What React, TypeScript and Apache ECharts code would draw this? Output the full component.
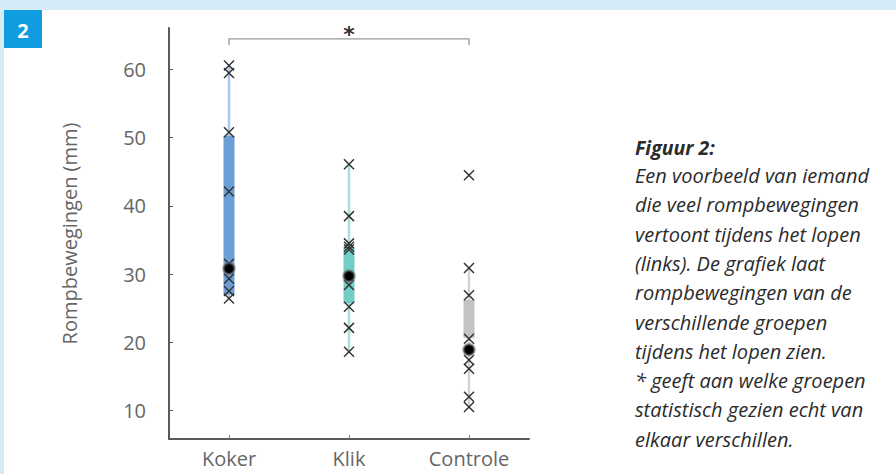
import React, { useEffect, useRef } from "react";
import * as echarts from "echarts";

const categories = ["Koker", "Klik", "Controle"];
const yTickValues = [10, 20, 30, 40, 50, 60];
const kokerPoints = [60.6, 59.5, 50.8, 42.1, 31.5, 29.3, 27.5, 26.4];
const klikPoints = [46.1, 38.5, 34.5, 34.0, 33.6, 28.4, 25.2, 22.1, 18.6];
const controlePoints = [44.5, 30.9, 26.9, 20.5, 17.4, 16.1, 12.0, 10.5];
const medians = [30.8, 29.7, 18.9];
const whiskerLow = [26.4, 18.6, 10.5];
const whiskerHigh = [60.6, 46.1, 30.9];
const boxLow = [27.0, 25.7, 20.6];
const boxHigh = [50.3, 33.8, 26.2];
const boxColors = ["#6c9fd6", "#72cdc6", "#c3c3c3"];
const whiskerColors = ["#aac8ea", "#a9dedb", "#d8d0d0"];
const bracket = { from: 0, to: 2, value: 64.5, tickEnd: 63.6, starValue: 65.6 };
const captionTitle = "Figuur 2:";
const captionLines = [
  "Een voorbeeld van iemand",
  "die veel rompbewegingen",
  "vertoont tijdens het lopen",
  "(links). De grafiek laat",
  "rompbewegingen van de",
  "verschillende groepen",
  "tijdens het lopen zien.",
  "* geeft aan welke groepen",
  "statistisch gezien echt van",
  "elkaar verschillen.",
];

export default function App() {
  const ref = useRef<HTMLDivElement>(null);
  useEffect(() => {
    if (!ref.current) return;
    document.body.style.margin = "0";
    document.body.style.background = "#ffffff";
    document.documentElement.style.background = "#ffffff";
    const chart = echarts.init(ref.current, null, { renderer: "svg", width: 896, height: 474 });
    const allPoints: number[][] = [];
    [kokerPoints, klikPoints, controlePoints].forEach((arr, i) =>
      arr.forEach((v) => allPoints.push([i, v]))
    );
    const boxData = categories.map((_, i) => [i, whiskerLow[i], boxLow[i], boxHigh[i], whiskerHigh[i]]);
    const font = "Open Sans";
    const captionGraphics: any[] = [
      {
        type: "text",
        left: 635,
        top: 137,
        style: { text: captionTitle, font: `italic bold 19.5px '${font}'`, fill: "#2b2b2b" },
      },
      ...captionLines.map((t, i) => ({
        type: "text",
        left: 635,
        top: 165.5 + i * 29.3,
        style: { text: t, font: `italic 20px '${font}'`, fill: "#2b2b2b" },
      })),
    ];
    chart.setOption({
      animation: false,
      backgroundColor: "#ffffff",
      textStyle: { fontFamily: font },
      graphic: [
        { type: "rect", z: -60, shape: { x: 4, y: 10, width: 892, height: 464 }, style: { fill: "#ffffff" } },
        { type: "rect", z: -50, shape: { x: 0, y: 0, width: 896, height: 10 }, style: { fill: "#d5ebf8" } },
        { type: "rect", z: -50, shape: { x: 0, y: 0, width: 4, height: 474 }, style: { fill: "#d5ebf8" } },
        { type: "rect", z: -50, shape: { x: 4, y: 10, width: 38, height: 38 }, style: { fill: "#0f9ddf" } },
        {
          type: "text",
          z: -40,
          x: 23,
          y: 30,
          style: { text: "2", font: `bold 20px '${font}'`, fill: "#ffffff", align: "center", verticalAlign: "middle" },
        },
        ...captionGraphics,
      ],
      grid: { left: 169, top: 28, width: 360, height: 411 },
      xAxis: {
        type: "category",
        data: categories,
        axisLine: { lineStyle: { color: "#5a5a5a", width: 2 } },
        axisTick: { show: true, inside: true, length: 4, alignWithLabel: true, lineStyle: { color: "#777" } },
        axisLabel: { color: "#666666", fontSize: 20, margin: 9, fontFamily: font },
        splitLine: { show: false },
      },
      yAxis: {
        type: "value",
        min: 5.8,
        max: 66.1,
        name: "Rompbewegingen (mm)",
        nameLocation: "middle",
        nameGap: 90,
        nameRotate: 90,
        nameTextStyle: { color: "#666666", fontSize: 20, fontFamily: font },
        axisLine: { show: true, lineStyle: { color: "#5a5a5a", width: 2 } },
        axisTick: { show: true, inside: true, length: 4, customValues: yTickValues, lineStyle: { color: "#5a5a5a" } },
        axisLabel: { color: "#666666", fontSize: 20, margin: 23, customValues: yTickValues, fontFamily: font },
        splitLine: { show: false },
      },
      series: [
        {
          type: "custom",
          data: boxData,
          encode: { x: 0, y: [1, 2, 3, 4] },
          z: 2,
          renderItem: (params: any, api: any) => {
            const i = api.value(0);
            const lo = api.coord([i, api.value(1)]);
            const q1 = api.coord([i, api.value(2)]);
            const q3 = api.coord([i, api.value(3)]);
            const hi = api.coord([i, api.value(4)]);
            const w = 11;
            return {
              type: "group",
              children: [
                {
                  type: "line",
                  shape: { x1: lo[0], y1: lo[1], x2: hi[0], y2: hi[1] },
                  style: { stroke: whiskerColors[i], lineWidth: 2.5 },
                },
                {
                  type: "rect",
                  shape: { x: q3[0] - w / 2, y: q3[1], width: w, height: q1[1] - q3[1] },
                  style: { fill: boxColors[i] },
                },
              ],
            };
          },
        },
        {
          type: "custom",
          data: allPoints,
          encode: { x: 0, y: 1 },
          z: 3,
          renderItem: (params: any, api: any) => {
            const p = api.coord([api.value(0), api.value(1)]);
            const s = 5;
            const st = { stroke: "#333333", lineWidth: 1.5 };
            return {
              type: "group",
              children: [
                { type: "line", shape: { x1: p[0] - s, y1: p[1] - s, x2: p[0] + s, y2: p[1] + s }, style: st },
                { type: "line", shape: { x1: p[0] - s, y1: p[1] + s, x2: p[0] + s, y2: p[1] - s }, style: st },
              ],
            };
          },
        },
        {
          type: "scatter",
          data: medians.map((v, i) => [i, v]),
          symbol: "circle",
          symbolSize: 11,
          z: 4,
          itemStyle: { color: "#000000", borderColor: "rgba(110,110,110,0.55)", borderWidth: 2.5, opacity: 1 },
        },
        {
          type: "custom",
          data: [[bracket.from, bracket.to, bracket.value, bracket.tickEnd, bracket.starValue]],
          encode: { x: [0, 1], y: [2, 3, 4] },
          z: 3,
          clip: false,
          renderItem: (params: any, api: any) => {
            const a = api.coord([api.value(0), api.value(2)]);
            const b = api.coord([api.value(1), api.value(2)]);
            const a2 = api.coord([api.value(0), api.value(3)]);
            const b2 = api.coord([api.value(1), api.value(3)]);
            const star = api.coord([(api.value(0) + api.value(1)) / 2, api.value(4)]);
            return {
              type: "group",
              children: [
                {
                  type: "polyline",
                  shape: { points: [a2, a, b, b2] },
                  style: { stroke: "#999999", lineWidth: 1.3, fill: "none" },
                },
                {
                  type: "text",
                  x: star[0],
                  y: star[1] + 3,
                  style: { text: "*", font: "bold 22px 'DejaVu Sans'", fill: "#333333", align: "center", verticalAlign: "middle" },
                },
              ],
            };
          },
        },
      ],
    });
    return () => chart.dispose();
  }, []);
  return (
    <div style={{ position: "fixed", left: 0, top: 0, width: 896, height: 474, background: "#ffffff" }}>
      <div ref={ref} style={{ width: 896, height: 474 }} />
    </div>
  );
}
